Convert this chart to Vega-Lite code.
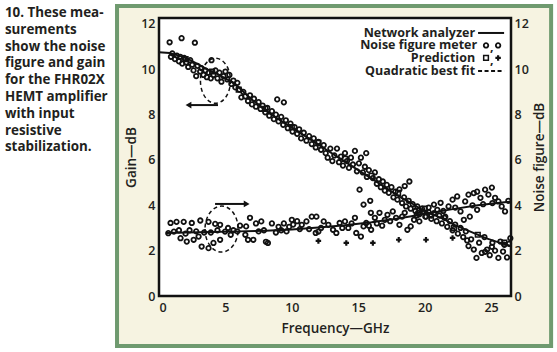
{
  "$schema": "https://vega.github.io/schema/vega-lite/v6.json",
  "width": 352,
  "height": 278,
  "autosize": "none",
  "padding": {"left": 159, "top": 18, "right": 46, "bottom": 56},
  "background": "white",
  "datasets": {
    "gain": [
      {"freq":0.8,"value":11.19},{"freq":1.7,"value":11.37},{"freq":2.7,"value":11.17},{"freq":0.9,"value":10.55},{"freq":1.0,"value":10.7},{"freq":1.2,"value":10.45},{"freq":1.35,"value":10.6},{"freq":1.5,"value":10.35},{"freq":1.6,"value":10.55},{"freq":1.75,"value":10.25},{"freq":1.9,"value":10.5},{"freq":2.05,"value":10.3},{"freq":2.2,"value":10.1},{"freq":2.35,"value":10.4},{"freq":2.5,"value":10.2},{"freq":2.6,"value":9.95},{"freq":2.8,"value":9.7},{"freq":2.9,"value":10.15},{"freq":3.1,"value":9.9},{"freq":3.2,"value":10.05},
      {"freq":3.35,"value":9.75},{"freq":3.5,"value":9.95},{"freq":3.6,"value":9.65},{"freq":3.75,"value":9.85},{"freq":3.9,"value":9.6},{"freq":3.95,"value":10.4},{"freq":4.1,"value":9.75},{"freq":4.25,"value":9.95},{"freq":4.4,"value":9.6},{"freq":4.55,"value":9.85},{"freq":4.7,"value":9.45},{"freq":4.85,"value":9.7},{"freq":5.0,"value":9.9},{"freq":5.15,"value":9.55},{"freq":5.3,"value":9.75},{"freq":5.45,"value":9.35},{"freq":5.6,"value":9.5},{"freq":5.75,"value":9.2},{"freq":5.9,"value":9.4},{"freq":6.05,"value":9.1},{"freq":6.2,"value":8.76},{"freq":6.35,"value":9.0},{"freq":6.5,"value":8.8},
      {"freq":6.7,"value":8.6},{"freq":6.85,"value":8.85},{"freq":7.0,"value":8.45},{"freq":7.15,"value":8.7},{"freq":7.3,"value":8.35},{"freq":7.5,"value":8.55},{"freq":7.65,"value":8.25},{"freq":7.8,"value":8.4},{"freq":8.0,"value":8.1},{"freq":8.15,"value":8.3},{"freq":8.3,"value":7.95},{"freq":8.5,"value":8.15},{"freq":8.65,"value":7.8},{"freq":8.9,"value":8.67},{"freq":9.4,"value":8.54},{"freq":8.8,"value":8.0},{"freq":9.0,"value":7.7},{"freq":9.2,"value":7.9},{"freq":9.35,"value":7.55},{"freq":9.55,"value":7.75},{"freq":9.7,"value":7.4},{"freq":9.9,"value":7.6},{"freq":10.05,"value":7.25},{"freq":10.2,"value":7.45},{"freq":10.4,"value":7.15},{"freq":10.55,"value":7.35},{"freq":10.7,"value":6.95},{"freq":10.9,"value":7.2},{"freq":11.1,"value":6.85},{"freq":11.3,"value":7.05},{"freq":11.5,"value":6.7},{"freq":11.65,"value":6.95},{"freq":11.8,"value":6.55},{"freq":12.0,"value":6.8},{"freq":12.2,"value":6.45},{"freq":12.4,"value":6.65},{"freq":12.55,"value":6.3},{"freq":12.7,"value":6.1},{"freq":12.9,"value":6.5},{"freq":13.05,"value":5.95},{"freq":13.2,"value":6.2},
      {"freq":13.4,"value":6.5},{"freq":13.55,"value":5.9},{"freq":13.7,"value":6.15},{"freq":13.85,"value":5.75},{"freq":14.0,"value":6.3},{"freq":14.15,"value":5.95},{"freq":14.3,"value":5.65},{"freq":14.45,"value":6.1},{"freq":14.6,"value":5.8},{"freq":14.75,"value":6.4},{"freq":14.9,"value":5.5},{"freq":15.05,"value":5.85},{"freq":15.1,"value":4.69},{"freq":15.2,"value":6.1},{"freq":15.4,"value":4.03},{"freq":15.35,"value":5.45},{"freq":15.5,"value":5.7},{"freq":15.6,"value":6.3},{"freq":15.65,"value":5.25},{"freq":15.8,"value":5.55},{"freq":15.9,"value":4.2},{"freq":16.1,"value":5.2},{"freq":16.25,"value":5.45},{"freq":16.4,"value":4.95},{"freq":16.55,"value":5.15},{"freq":16.7,"value":4.8},{"freq":16.85,"value":5.05},{"freq":17.0,"value":4.65},{"freq":17.15,"value":4.9},{"freq":17.3,"value":4.55},{"freq":17.5,"value":4.8},{"freq":17.65,"value":4.35},{"freq":17.8,"value":4.6},{"freq":17.95,"value":4.25},{"freq":18.1,"value":4.7},{"freq":18.3,"value":4.1},{"freq":18.45,"value":4.35},{"freq":18.5,"value":4.85},{"freq":18.6,"value":3.95},{"freq":18.8,"value":4.2},{"freq":18.85,"value":5.05},{"freq":18.95,"value":3.85},{"freq":19.1,"value":4.05},{"freq":19.3,"value":3.75},{"freq":19.45,"value":3.95},{"freq":19.6,"value":3.6},{"freq":19.8,"value":3.85},{"freq":19.95,"value":3.7},
      {"freq":20.1,"value":3.5},{"freq":20.3,"value":3.9},{"freq":20.5,"value":3.4},{"freq":20.7,"value":3.65},{"freq":20.9,"value":3.3},{"freq":21.1,"value":3.55},{"freq":21.3,"value":3.2},{"freq":21.5,"value":3.45},{"freq":21.7,"value":3.05},{"freq":21.9,"value":3.3},{"freq":22.1,"value":2.9},{"freq":22.3,"value":3.15},{"freq":22.5,"value":2.75},{"freq":22.7,"value":3.0},{"freq":22.9,"value":2.6},{"freq":23.1,"value":2.85},{"freq":23.2,"value":2.45},{"freq":23.3,"value":2.2},{"freq":23.5,"value":2.5},{"freq":23.7,"value":2.05},{"freq":23.9,"value":1.68},{"freq":24.1,"value":2.35},{"freq":24.3,"value":1.9},{"freq":24.5,"value":2.6},{"freq":24.55,"value":1.95},{"freq":24.7,"value":2.05},{"freq":24.9,"value":1.8},{"freq":25.06,"value":2.17},{"freq":25.1,"value":2.35},{"freq":25.3,"value":2.0},{"freq":25.55,"value":1.68},{"freq":25.7,"value":2.4},{"freq":25.9,"value":1.96},{"freq":26.0,"value":2.26},{"freq":26.2,"value":1.7},{"freq":26.35,"value":2.3},{"freq":26.45,"value":2.55}
    ],
    "gainline": [
      {"freq":0,"value":10.75},{"freq":0.8,"value":10.72},{"freq":1.5,"value":10.6},{"freq":2.2,"value":10.45},{"freq":3.0,"value":10.2},{"freq":3.6,"value":10.0},{"freq":4.2,"value":9.85},{"freq":5.0,"value":9.6},{"freq":5.6,"value":9.4},{"freq":6.2,"value":9.1},{"freq":7.0,"value":8.65},{"freq":7.8,"value":8.3},{"freq":8.6,"value":7.95},{"freq":9.4,"value":7.65},{"freq":10.2,"value":7.35},{"freq":11.0,"value":7.05},{"freq":11.8,"value":6.75},{"freq":12.6,"value":6.45},{"freq":13.4,"value":6.15},{"freq":14.2,"value":5.85},{"freq":15.0,"value":5.55},{"freq":15.8,"value":5.25},{"freq":16.6,"value":4.95},{"freq":17.4,"value":4.65},{"freq":18.2,"value":4.35},{"freq":19.0,"value":4.1},{"freq":19.8,"value":3.8},{"freq":20.6,"value":3.6},{"freq":21.4,"value":3.4},{"freq":22.2,"value":3.15},{"freq":23.0,"value":2.95},{"freq":23.8,"value":2.75},{"freq":24.6,"value":2.55},{"freq":25.4,"value":2.4},{"freq":26.2,"value":2.26},{"freq":26.5,"value":2.2}
    ],
    "nf": [
      {"freq":0.7,"value":2.77},{"freq":0.87,"value":3.22},{"freq":1.12,"value":2.84},{"freq":1.32,"value":3.27},{"freq":1.5,"value":2.9},{"freq":1.62,"value":2.55},{"freq":1.86,"value":3.27},{"freq":2.0,"value":2.75},{"freq":2.09,"value":2.4},{"freq":2.3,"value":2.9},{"freq":2.47,"value":3.22},{"freq":2.61,"value":2.48},{"freq":2.8,"value":2.85},{"freq":2.98,"value":2.62},{"freq":3.11,"value":3.33},{"freq":3.21,"value":2.18},{"freq":3.4,"value":2.8},{"freq":3.73,"value":3.27},{"freq":3.73,"value":2.11},{"freq":3.9,"value":2.8},{"freq":4.1,"value":2.34},{"freq":4.23,"value":3.18},{"freq":4.4,"value":2.9},{"freq":4.6,"value":3.14},{"freq":4.6,"value":2.48},{"freq":4.97,"value":2.84},{"freq":5.2,"value":3.0},{"freq":5.4,"value":2.7},{"freq":5.6,"value":2.9},{"freq":5.9,"value":2.85},{"freq":6.1,"value":3.1},{"freq":6.5,"value":2.7},{"freq":6.56,"value":3.07},{"freq":6.7,"value":2.48},{"freq":6.85,"value":3.45},{"freq":7.1,"value":2.48},{"freq":7.3,"value":3.2},{"freq":7.5,"value":2.85},{"freq":7.7,"value":3.29},{"freq":7.9,"value":2.9},{"freq":8.05,"value":2.39},{"freq":8.2,"value":2.34},{"freq":8.5,"value":3.2},{"freq":8.8,"value":2.8},{"freq":9.0,"value":3.05},{"freq":9.2,"value":2.9},{"freq":9.4,"value":3.2},{"freq":9.6,"value":2.85},{"freq":9.8,"value":3.05},{"freq":10.0,"value":3.36},{"freq":10.1,"value":3.15},{"freq":10.4,"value":3.3},{"freq":10.6,"value":2.95},{"freq":10.75,"value":3.14},{"freq":11.1,"value":3.29},{"freq":11.3,"value":2.95},{"freq":11.5,"value":3.5},{"freq":11.8,"value":2.78},{"freq":11.85,"value":3.5},{"freq":12.0,"value":2.84},{"freq":12.2,"value":3.0},{"freq":12.4,"value":3.29},{"freq":12.75,"value":3.14},{"freq":13.1,"value":2.92},{"freq":13.35,"value":2.78},{"freq":13.6,"value":3.22},{"freq":13.8,"value":3.0},{"freq":14.0,"value":3.29},{"freq":14.25,"value":3.0},{"freq":14.5,"value":3.2},{"freq":14.75,"value":3.45},{"freq":14.85,"value":2.78},{"freq":15.2,"value":2.62},{"freq":15.4,"value":3.07},{"freq":15.6,"value":3.22},{"freq":15.8,"value":3.1},{"freq":15.95,"value":3.67},{"freq":15.97,"value":2.92},{"freq":16.25,"value":3.45},{"freq":16.4,"value":3.2},{"freq":16.6,"value":3.67},{"freq":16.8,"value":3.1},{"freq":17.0,"value":3.36},{"freq":17.2,"value":3.58},{"freq":17.4,"value":3.3},{"freq":17.6,"value":3.73},{"freq":17.85,"value":3.45},{"freq":18.1,"value":3.14},{"freq":18.3,"value":3.5},{"freq":18.5,"value":3.67},{"freq":18.7,"value":2.92},{"freq":18.95,"value":3.07},{"freq":19.2,"value":3.36},{"freq":19.4,"value":3.55},{"freq":19.5,"value":3.67},{"freq":19.6,"value":3.29},{"freq":19.85,"value":3.73},{"freq":20.05,"value":3.5},{"freq":20.3,"value":3.7},{"freq":20.5,"value":3.55},{"freq":20.7,"value":4.03},{"freq":20.95,"value":3.8},{"freq":21.2,"value":4.11},{"freq":21.4,"value":3.75},{"freq":21.55,"value":3.5},{"freq":21.8,"value":3.95},{"freq":22.1,"value":4.25},{"freq":22.3,"value":3.9},{"freq":22.45,"value":4.39},{"freq":22.7,"value":3.73},{"freq":22.95,"value":3.36},{"freq":23.05,"value":4.17},{"freq":23.3,"value":4.47},{"freq":23.4,"value":3.5},{"freq":23.6,"value":4.0},{"freq":23.7,"value":4.54},{"freq":23.95,"value":4.6},{"freq":23.95,"value":3.8},{"freq":24.2,"value":4.33},{"freq":24.4,"value":4.05},{"freq":24.55,"value":4.69},{"freq":24.8,"value":4.47},{"freq":25.06,"value":4.78},{"freq":25.1,"value":4.1},{"freq":25.3,"value":4.33},{"freq":25.55,"value":4.17},{"freq":25.8,"value":3.95},{"freq":26.05,"value":3.73},{"freq":26.3,"value":4.2}
    ],
    "nfline": [
      {"freq":0.6,"value":2.78},{"freq":2,"value":2.8},{"freq":4,"value":2.82},{"freq":6,"value":2.85},{"freq":8,"value":2.88},{"freq":10,"value":2.93},{"freq":12,"value":3.02},{"freq":14,"value":3.12},{"freq":16,"value":3.25},{"freq":18,"value":3.42},{"freq":20,"value":3.62},{"freq":22,"value":3.82},{"freq":24,"value":4.0},{"freq":26,"value":4.13},{"freq":26.5,"value":4.16}
    ],
    "predG": [
      {"freq":2,"value":10.45},{"freq":4,"value":9.9},{"freq":6,"value":9.1},{"freq":8,"value":8.25},{"freq":10,"value":7.45},{"freq":12,"value":6.75},{"freq":14,"value":6.05},{"freq":16,"value":5.3},{"freq":18,"value":4.55},{"freq":20,"value":3.85},{"freq":22.2,"value":3.0},{"freq":24,"value":2.7},{"freq":26,"value":2.35}
    ],
    "predN": [
      {"freq":12.0,"value":2.43},{"freq":14.1,"value":2.34},{"freq":16.1,"value":2.34},{"freq":18.05,"value":2.48},{"freq":20.1,"value":2.48},{"freq":22.1,"value":2.56}
    ]
  },
  "layer": [
    {
      "data": {"values": [{}]},
      "layer": [
        {
          "mark": {"type": "rect", "fill": "#f6f3e1", "stroke": "#6f9a6f", "strokeWidth": 4},
          "encoding": {
            "x": {"datum": -3.16, "type": "quantitative", "scale": {"domain": [0, 26.5], "nice": false, "zero": false}, "title": "Frequency—GHz", "axis": {"zindex": 2}},
            "x2": {"datum": 29.52},
            "y": {"datum": -2.21, "type": "quantitative", "scale": {"domain": [0, 12.26], "nice": false}, "title": "Gain—dB", "axis": {"zindex": 2}},
            "y2": {"datum": 12.79}
          }
        },
        {
          "mark": {"type": "rect", "fill": "white", "stroke": "#111111", "strokeWidth": 2.5},
          "encoding": {
            "x": {"datum": 0, "type": "quantitative", "title": "Frequency—GHz"},
            "x2": {"datum": 26.5},
            "y": {"datum": 0, "type": "quantitative", "title": "Gain—dB"},
            "y2": {"datum": 12.26}
          }
        },
        {
          "mark": {"type": "text", "align": "left", "baseline": "middle", "font": "Open Sans", "fontSize": 13.4, "fontWeight": "bold", "lineHeight": 16.8, "color": "#231f20"},
          "encoding": {
            "x": {"datum": -11.6, "type": "quantitative", "title": "Frequency—GHz"},
            "y": {"datum": 12.48, "type": "quantitative", "title": "Gain—dB"},
            "text": {"value": ["10. These mea-", "surements", "show the noise", "figure and gain", "for the FHR02X", "HEMT amplifier", "with input", "resistive", "stabilization."]}
          }
        },
        {
          "data": {"name": "gainline"},
          "mark": {"type": "line", "color": "#111111", "strokeWidth": 2},
          "encoding": {
            "x": {"field": "freq", "type": "quantitative", "title": "Frequency—GHz"},
            "y": {"field": "value", "type": "quantitative", "title": "Gain—dB"}
          }
        },
        {
          "data": {"name": "gain"},
          "mark": {"type": "point", "shape": "circle", "filled": false, "size": 20, "strokeWidth": 1.8, "color": "#111111", "opacity": 1},
          "encoding": {
            "x": {"field": "freq", "type": "quantitative", "title": "Frequency—GHz"},
            "y": {"field": "value", "type": "quantitative", "title": "Gain—dB"}
          }
        },
        {
          "data": {"name": "predG"},
          "mark": {"type": "point", "shape": "square", "filled": false, "size": 22, "strokeWidth": 1.5, "color": "#111111", "opacity": 1},
          "encoding": {
            "x": {"field": "freq", "type": "quantitative", "title": "Frequency—GHz"},
            "y": {"field": "value", "type": "quantitative", "title": "Gain—dB"}
          }
        },
        {
          "mark": {"type": "point", "shape": "M-0.667,0A0.667,1,0,1,0,0.667,0A0.667,1,0,1,0,-0.667,0Z", "filled": false, "size": 2025, "strokeWidth": 1.5, "strokeDash": [4, 3], "color": "#111111", "opacity": 1},
          "encoding": {
            "x": {"datum": 4.25, "type": "quantitative", "title": "Frequency—GHz"},
            "y": {"datum": 9.49, "type": "quantitative", "title": "Gain—dB"}
          }
        },
        {
          "mark": {"type": "point", "shape": "M-0.72,0A0.72,1,0,1,0,0.72,0A0.72,1,0,1,0,-0.72,0Z", "filled": false, "size": 2116, "strokeWidth": 1.5, "strokeDash": [4, 3], "color": "#111111", "opacity": 1},
          "encoding": {
            "x": {"datum": 4.71, "type": "quantitative", "title": "Frequency—GHz"},
            "y": {"datum": 2.95, "type": "quantitative", "title": "Gain—dB"}
          }
        },
        {
          "mark": {"type": "rule", "color": "#111111", "strokeWidth": 2},
          "encoding": {
            "x": {"datum": 2.2, "type": "quantitative", "title": "Frequency—GHz"},
            "x2": {"datum": 4.44},
            "y": {"datum": 8.42, "type": "quantitative", "title": "Gain—dB"}
          }
        },
        {
          "mark": {"type": "point", "shape": "triangle-left", "filled": true, "size": 45, "color": "#111111", "opacity": 1},
          "encoding": {
            "x": {"datum": 2.22, "type": "quantitative", "title": "Frequency—GHz"},
            "y": {"datum": 8.42, "type": "quantitative", "title": "Gain—dB"}
          }
        },
        {
          "mark": {"type": "rule", "color": "#111111", "strokeWidth": 2},
          "encoding": {
            "x": {"datum": 4.22, "type": "quantitative", "title": "Frequency—GHz"},
            "x2": {"datum": 6.6},
            "y": {"datum": 4.06, "type": "quantitative", "title": "Gain—dB"}
          }
        },
        {
          "mark": {"type": "point", "shape": "triangle-right", "filled": true, "size": 45, "color": "#111111", "opacity": 1},
          "encoding": {
            "x": {"datum": 6.6, "type": "quantitative", "title": "Frequency—GHz"},
            "y": {"datum": 4.06, "type": "quantitative", "title": "Gain—dB"}
          }
        },
        {
          "mark": {"type": "text", "align": "right", "baseline": "middle", "font": "Open Sans", "fontSize": 12.5, "fontWeight": "bold", "color": "#231f20"},
          "encoding": {
            "x": {"datum": 23.8, "type": "quantitative", "title": "Frequency—GHz"},
            "y": {"datum": 11.6, "type": "quantitative", "title": "Gain—dB"},
            "text": {"value": "Network analyzer"}
          }
        },
        {
          "mark": {"type": "text", "align": "right", "baseline": "middle", "font": "Open Sans", "fontSize": 12.5, "fontWeight": "bold", "color": "#231f20"},
          "encoding": {
            "x": {"datum": 23.95, "type": "quantitative", "title": "Frequency—GHz"},
            "y": {"datum": 11.05, "type": "quantitative", "title": "Gain—dB"},
            "text": {"value": "Noise figure meter"}
          }
        },
        {
          "mark": {"type": "text", "align": "right", "baseline": "middle", "font": "Open Sans", "fontSize": 12.5, "fontWeight": "bold", "color": "#231f20"},
          "encoding": {
            "x": {"datum": 23.8, "type": "quantitative", "title": "Frequency—GHz"},
            "y": {"datum": 10.5, "type": "quantitative", "title": "Gain—dB"},
            "text": {"value": "Prediction"}
          }
        },
        {
          "mark": {"type": "text", "align": "right", "baseline": "middle", "font": "Open Sans", "fontSize": 12.5, "fontWeight": "bold", "color": "#231f20"},
          "encoding": {
            "x": {"datum": 23.8, "type": "quantitative", "title": "Frequency—GHz"},
            "y": {"datum": 9.92, "type": "quantitative", "title": "Gain—dB"},
            "text": {"value": "Quadratic best fit"}
          }
        },
        {
          "mark": {"type": "rule", "color": "#111111", "strokeWidth": 2},
          "encoding": {
            "x": {"datum": 24.02, "type": "quantitative", "title": "Frequency—GHz"},
            "x2": {"datum": 25.98},
            "y": {"datum": 11.6, "type": "quantitative", "title": "Gain—dB"}
          }
        },
        {
          "mark": {"type": "rule", "color": "#111111", "strokeWidth": 2, "strokeDash": [4, 2.5]},
          "encoding": {
            "x": {"datum": 24.02, "type": "quantitative", "title": "Frequency—GHz"},
            "x2": {"datum": 25.98},
            "y": {"datum": 9.92, "type": "quantitative", "title": "Gain—dB"}
          }
        },
        {
          "mark": {"type": "point", "shape": "circle", "filled": false, "size": 20, "strokeWidth": 1.8, "color": "#111111", "opacity": 1},
          "encoding": {
            "x": {"datum": 24.62, "type": "quantitative", "title": "Frequency—GHz"},
            "y": {"datum": 11.05, "type": "quantitative", "title": "Gain—dB"}
          }
        },
        {
          "mark": {"type": "point", "shape": "circle", "filled": false, "size": 20, "strokeWidth": 1.8, "color": "#111111", "opacity": 1},
          "encoding": {
            "x": {"datum": 25.53, "type": "quantitative", "title": "Frequency—GHz"},
            "y": {"datum": 11.05, "type": "quantitative", "title": "Gain—dB"}
          }
        },
        {
          "mark": {"type": "point", "shape": "square", "filled": false, "size": 22, "strokeWidth": 1.5, "color": "#111111", "opacity": 1},
          "encoding": {
            "x": {"datum": 24.62, "type": "quantitative", "title": "Frequency—GHz"},
            "y": {"datum": 10.5, "type": "quantitative", "title": "Gain—dB"}
          }
        },
        {
          "mark": {"type": "point", "shape": "cross", "filled": true, "size": 30, "color": "#111111", "opacity": 1},
          "encoding": {
            "x": {"datum": 25.53, "type": "quantitative", "title": "Frequency—GHz"},
            "y": {"datum": 10.5, "type": "quantitative", "title": "Gain—dB"}
          }
        },
        {
          "mark": {"type": "text", "align": "center", "baseline": "middle", "font": "Open Sans", "fontSize": 12.5, "fontWeight": "bold", "color": "#231f20", "dy": 2},
          "encoding": {
            "x": {"datum": 25.06, "type": "quantitative", "title": "Frequency—GHz"},
            "y": {"datum": 11.05, "type": "quantitative", "title": "Gain—dB"},
            "text": {"value": ","}
          }
        },
        {
          "mark": {"type": "text", "align": "center", "baseline": "middle", "font": "Open Sans", "fontSize": 12.5, "fontWeight": "bold", "color": "#231f20", "dy": 2},
          "encoding": {
            "x": {"datum": 25.06, "type": "quantitative", "title": "Frequency—GHz"},
            "y": {"datum": 10.5, "type": "quantitative", "title": "Gain—dB"},
            "text": {"value": ","}
          }
        }
      ]
    },
    {
      "layer": [
        {
          "data": {"name": "nfline"},
          "mark": {"type": "line", "color": "#111111", "strokeWidth": 2},
          "encoding": {
            "x": {"field": "freq", "type": "quantitative", "title": "Frequency—GHz", "axis": {"zindex": 2}},
            "y": {"field": "value", "type": "quantitative", "scale": {"domain": [0, 12.26], "nice": false}, "title": "Noise figure—dB", "axis": {"orient": "right", "zindex": 2}}
          }
        },
        {
          "data": {"name": "nf"},
          "mark": {"type": "point", "shape": "circle", "filled": false, "size": 20, "strokeWidth": 1.8, "color": "#111111", "opacity": 1},
          "encoding": {
            "x": {"field": "freq", "type": "quantitative", "title": "Frequency—GHz"},
            "y": {"field": "value", "type": "quantitative", "title": "Noise figure—dB", "axis": {"orient": "right", "zindex": 2}}
          }
        },
        {
          "data": {"name": "predN"},
          "mark": {"type": "point", "shape": "cross", "filled": true, "size": 30, "color": "#111111", "opacity": 1},
          "encoding": {
            "x": {"field": "freq", "type": "quantitative", "title": "Frequency—GHz"},
            "y": {"field": "value", "type": "quantitative", "title": "Noise figure—dB", "axis": {"orient": "right", "zindex": 2}}
          }
        }
      ]
    }
  ],
  "resolve": {"scale": {"y": "independent"}},
  "config": {
    "view": {"stroke": null},
    "axis": {"domain": false, "ticks": false, "grid": false, "labelFont": "Open Sans", "labelFontSize": 12.5, "labelFontWeight": 600, "labelColor": "#231f20", "titleFont": "Open Sans", "titleFontSize": 13.5, "titleFontWeight": 600, "titleColor": "#231f20"},
    "axisX": {"labelPadding": 5, "titlePadding": 8, "tickCount": 6},
    "axisY": {"labelPadding": 4, "titlePadding": 2, "tickCount": 7},
    "axisRight": {"titleAngle": 270, "titleBaseline": "top", "labelPadding": 3, "titlePadding": 4}
  }
}
